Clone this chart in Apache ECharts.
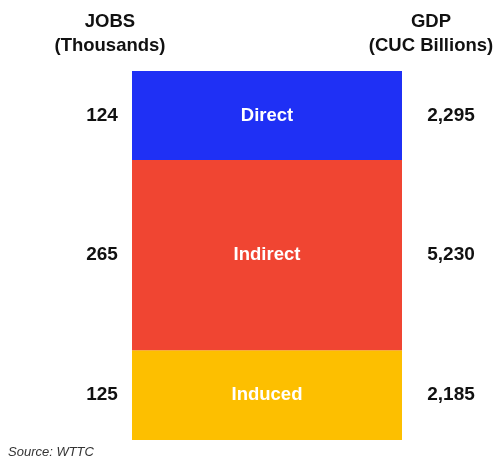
<!DOCTYPE html>
<html>
<head>
<meta charset="utf-8">
<script src="https://cdn.jsdelivr.net/npm/echarts@6/dist/echarts.min.js"></script>
<style>html,body{margin:0;padding:0;background:#fff;}#c{width:496px;height:456px;}</style>
</head>
<body>
<div id="c"></div>
<script>
// Data (top to bottom in the picture)
var segments = ['Direct', 'Indirect', 'Induced'];
var jobs = [124, 265, 125];            // Thousands
var gdp = ['2,295', '5,230', '2,185']; // CUC Billions
var colors = ['#1f30f5', '#f04532', '#fdbf00'];
var headerLeft = ['JOBS', '(Thousands)'];
var headerRight = ['GDP', '(CUC Billions)'];
var sourceText = 'Source: WTTC';

var total = jobs.reduce(function (a, b) { return a + b; }, 0);
var font = '"Liberation Sans", Arial, sans-serif';
var valStyle = { color: '#111', fontSize: 19, fontWeight: 'bold', fontFamily: font };

var series = [];
// stack from bottom: reverse order
for (var k = segments.length - 1; k >= 0; k--) {
  (function (i) {
    series.push({
      name: segments[i],
      type: 'bar',
      stack: 'total',
      barWidth: '100%',
      data: [jobs[i]],
      itemStyle: { color: colors[i] },
      silent: true,
      label: {
        show: true,
        position: 'inside',
        formatter: '{s| }{j|' + jobs[i] + '}{n|' + segments[i] + '}{g|' + gdp[i] + '}',
        rich: {
          s: { width: 38, fontSize: 18, fontFamily: font },
          j: Object.assign({ width: 60 }, valStyle),
          n: { width: 270, color: '#fff', fontSize: 18.5, fontWeight: 'bold', fontFamily: font },
          g: Object.assign({ width: 98 }, valStyle)
        }
      }
    });
  })(k);
}

var chart = echarts.init(document.getElementById('c'));
chart.setOption({
  animation: false,
  backgroundColor: '#fff',
  grid: { left: 132, right: 94, top: 71, bottom: 16, containLabel: false },
  xAxis: { type: 'category', data: [''], show: false },
  yAxis: { type: 'value', min: 0, max: total, show: false },
  title: [
    { text: headerLeft.join('\n'), left: 105, top: 5, textAlign: 'center',
      textStyle: { fontSize: 18.5, fontWeight: 'bold', color: '#111', fontFamily: font, lineHeight: 24, align: 'center' } },
    { text: headerRight.join('\n'), left: 426, top: 5, textAlign: 'center',
      textStyle: { fontSize: 18.5, fontWeight: 'bold', color: '#111', fontFamily: font, lineHeight: 24, align: 'center' } },
    { text: sourceText, left: 3, top: 441,
      textStyle: { fontSize: 13, fontStyle: 'italic', fontWeight: 'normal', color: '#333', fontFamily: font } }
  ],
  series: series
});
</script>
</body>
</html>
